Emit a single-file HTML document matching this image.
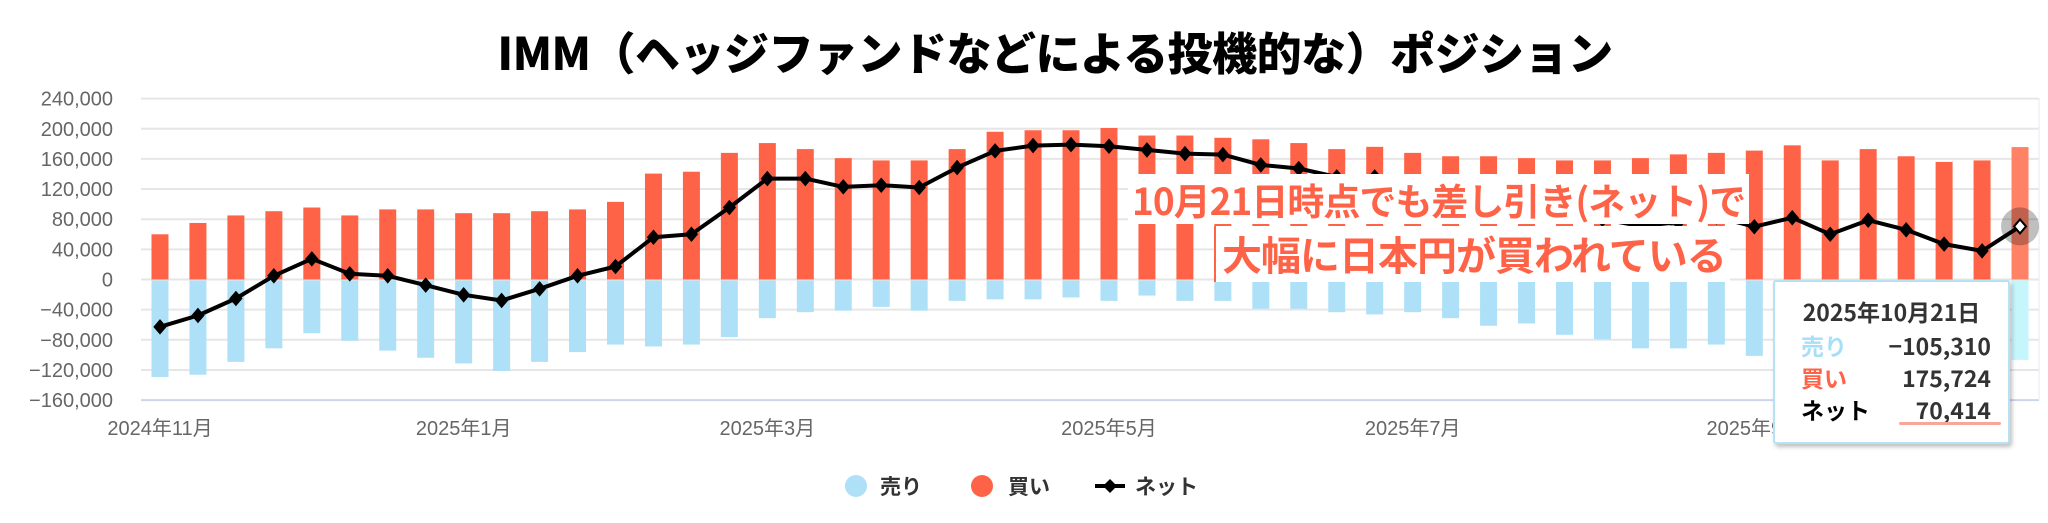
<!DOCTYPE html>
<html><head><meta charset="utf-8"><style>
html,body{margin:0;padding:0;background:#fff;}
body{width:2048px;height:523px;overflow:hidden;position:relative;font-family:"Liberation Sans","Noto Sans CJK JP",sans-serif;}
svg{position:absolute;left:0;top:0;}
.title{position:absolute;left:0;width:2110px;top:18px;text-align:center;font:900 45px "Noto Sans CJK JP",sans-serif;color:#000;letter-spacing:-0.5px;white-space:nowrap;}
.ann1{position:absolute;left:1128px;top:174px;height:50px;padding:0 4px;background:#fff;font:700 37px "Noto Sans CJK JP",sans-serif;color:#ff6347;white-space:nowrap;line-height:50px;letter-spacing:-1px;}
.ann2{position:absolute;left:1214px;top:226px;height:56px;padding:0 4px 0 6px;background:#fff;border-left:2px solid #ff6347;font:700 40px "Noto Sans CJK JP",sans-serif;color:#ff6347;white-space:nowrap;line-height:54px;letter-spacing:-1px;}
.tip{position:absolute;left:1773px;top:280px;width:233px;height:160px;background:#fff;border:2px solid #b5e3f5;border-radius:3px;box-shadow:2px 3px 4px rgba(0,0,0,0.25);font:700 23px "Noto Sans CJK JP",sans-serif;color:#333;}
.tip .d{position:absolute;top:12px;width:100%;text-align:center;}
.tip .r{position:absolute;left:26px;width:190px;line-height:30px;}
.tip .r span{position:absolute;right:0;}
</style></head><body>
<svg id="c" width="2048" height="523" xmlns="http://www.w3.org/2000/svg"></svg>
<div class="title">IMM（ヘッジファンドなどによる投機的な）ポジション</div>
<div class="ann1">10月21日時点でも差し引き(ネット)で</div>
<div class="ann2">大幅に日本円が買われている</div>
<div class="tip">
<div class="d">2025年10月21日</div>
<div class="r" style="top:48px;color:#a8dff8">売り<span style="color:#333">−105,310</span></div>
<div class="r" style="top:80px;color:#ff6347">買い<span style="color:#333">175,724</span></div>
<div class="r" style="top:112px;color:#000">ネット<span style="color:#333">70,414</span></div>
<div style="position:absolute;left:124px;top:140px;width:102px;height:3px;background:#f9a59a;border-radius:2px"></div>
</div>
<script>
var buy=[60,75,85,90.6,95.5,85,93,93,88,88,90.6,93,103,140.5,143,168,181,173,161,158,158,173,196,198,198,201,191,191,188,186,181,173,176,168,163.5,163.5,161,158,158,161,166,168,171,178,158,173,163.5,156,158,175.7];
var sell=[-128,-125,-108,-90,-70,-80,-93,-102.5,-110,-120,-108,-95,-85,-87.5,-85,-75,-50,-42,-40,-35,-40,-27,-25,-25,-22.5,-27,-20,-27,-27,-37.5,-37.5,-42,-45,-42,-50,-60,-57,-72,-78,-90,-90,-85,-100,-98,-98,-94,-97.6,-109,-120,-105.3];
var net=[-62.8,-47.7,-25.2,4.9,27.4,7.5,4.9,-7.5,-20.3,-27.8,-12.4,4.9,17.2,56.1,60.1,95.5,133.9,133.9,122.9,125.1,122,148.5,170.6,177.7,179,176.8,171.9,167,165.7,152,147.2,136.1,136.1,126,113,103,104,86,80,71,76,83,70,82,60,78.7,65.9,46.9,38,70.4];
var L=141,R=2039,Y0=279.5,K=30.15/40,cw=(R-L)/50;
function y(v){return Y0-v*K;}
var s='';
for(var g=-160;g<=240;g+=40){var yy=y(g);
 if(g==-160){s+='<line x1="'+L+'" x2="'+R+'" y1="'+yy+'" y2="'+yy+'" stroke="#ccd6eb" stroke-width="2"/>';}
 else s+='<line x1="'+L+'" x2="'+R+'" y1="'+yy+'" y2="'+yy+'" stroke="#e6e6e6" stroke-width="2"/>';
 var t=g==0?'0':(g<0?'−':'')+Math.abs(g)+',000';
 s+='<text x="113" y="'+(yy+7)+'" text-anchor="end" font-size="20" fill="#666" font-family="Liberation Sans,sans-serif">'+t+'</text>';}
s+='<line x1="'+R+'" x2="'+R+'" y1="98" y2="400" stroke="#e3e8f3" stroke-width="1"/>';
for(var i=0;i<50;i++){var cx=L+cw*(i+0.5),last=i==49;
 s+='<rect x="'+(cx-8.5)+'" y="'+y(buy[i])+'" width="17" height="'+(buy[i]*K)+'" fill="'+(last?'#ff8266':'#ff6347')+'"/>';
 s+='<rect x="'+(cx-8.5)+'" y="'+(Y0+1)+'" width="17" height="'+(-sell[i]*K)+'" fill="'+(last?'#c4f6fc':'#aee0f8')+'"/>';}
var lbl=[[0,'2024年11月'],[8,'2025年1月'],[16,'2025年3月'],[25,'2025年5月'],[33,'2025年7月'],[42,'2025年9月']];
lbl.forEach(function(a){s+='<text x="'+(L+cw*(a[0]+0.5))+'" y="435" text-anchor="middle" font-size="20" fill="#666" font-family="Liberation Sans,Noto Sans CJK JP,sans-serif">'+a[1]+'</text>';});
var p='';for(i=0;i<50;i++){p+=(i?'L':'M')+(L+cw*(i+0.5)).toFixed(1)+' '+y(net[i]).toFixed(1);}
var lx=L+cw*49.5,ly=y(net[49]);
s+='<circle cx="'+lx+'" cy="'+ly+'" r="19" fill="rgba(0,0,0,0.25)"/>';
s+='<path d="'+p+'" fill="none" stroke="#000" stroke-width="4" stroke-linejoin="round"/>';
for(i=0;i<50;i++){var x=L+cw*(i+0.5),yy=y(net[i]);var f=i==49?'#fff':'#000';
 s+='<path d="M'+x+' '+(yy-7)+'L'+(x+6)+' '+yy+'L'+x+' '+(yy+7)+'L'+(x-6)+' '+yy+'Z" fill="'+f+'" stroke="#000" stroke-width="'+(i==49?2:1)+'"/>';}
s+='<circle cx="856" cy="486" r="11" fill="#aee0f8"/><text x="880" y="494" font-size="21" font-weight="700" fill="#333" font-family="Noto Sans CJK JP,sans-serif">売り</text>';
s+='<circle cx="982" cy="486" r="11" fill="#ff6347"/><text x="1008" y="494" font-size="21" font-weight="700" fill="#333" font-family="Noto Sans CJK JP,sans-serif">買い</text>';
s+='<line x1="1095" x2="1125" y1="486" y2="486" stroke="#000" stroke-width="4"/><path d="M1110 479L1117 486L1110 493L1103 486Z" fill="#000"/><text x="1135" y="494" font-size="21" font-weight="700" fill="#333" font-family="Noto Sans CJK JP,sans-serif">ネット</text>';
document.getElementById('c').innerHTML=s;
</script>
</body></html>
